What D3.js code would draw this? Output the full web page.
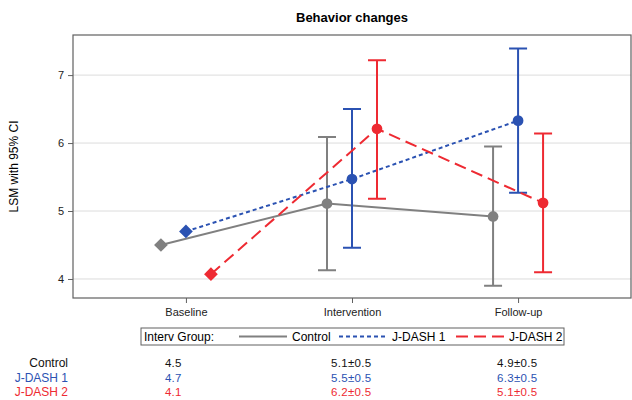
<!DOCTYPE html>
<html>
<head>
<meta charset="utf-8">
<script src="https://cdn.jsdelivr.net/npm/d3@7"></script>
<style>
  body { margin: 0; background: #fff; }
  svg { display: block; font-family: "Liberation Sans", Arial, sans-serif; }
</style>
</head>
<body>
<svg id="chart" width="632" height="400"></svg>
<script>
// categories and groups
const categories = ['Baseline', 'Intervention', 'Follow-up'];
const groups = ['Control', 'J-DASH 1', 'J-DASH 2'];

// least squares means and 95% CI
const controlMean = [4.5, 5.11, 4.92];
const controlLow = [null, 4.13, 3.90];
const controlHigh = [null, 6.09, 5.95];

const dash1Mean = [4.70, 5.47, 6.33];
const dash1Low = [null, 4.46, 5.27];
const dash1High = [null, 6.50, 7.39];

const dash2Mean = [4.07, 6.21, 5.12];
const dash2Low = [null, 5.18, 4.10];
const dash2High = [null, 7.22, 6.14];

// table under the chart
const controlText = ['4.5', '5.1±0.5', '4.9±0.5'];
const dash1Text = ['4.7', '5.5±0.5', '6.3±0.5'];
const dash2Text = ['4.1', '6.2±0.5', '5.1±0.5'];

const yTicks = [4, 5, 6, 7];

const colors = { 'Control': '#808080', 'J-DASH 1': '#2b52b2', 'J-DASH 2': '#ee2a32' };
const dashes = { 'Control': null, 'J-DASH 1': '4,3', 'J-DASH 2': '12,6' };

const series = [
  { name: 'Control', mean: controlMean, low: controlLow, high: controlHigh, text: controlText },
  { name: 'J-DASH 1', mean: dash1Mean, low: dash1Low, high: dash1High, text: dash1Text },
  { name: 'J-DASH 2', mean: dash2Mean, low: dash2Low, high: dash2High, text: dash2Text },
];

const svg = d3.select('#chart');
const plot = { left: 73, right: 631, top: 35, bottom: 298 };

const x = d3.scalePoint()
  .domain(categories)
  .range([plot.left, plot.right])
  .padding(0.68);

const offset = d3.scalePoint()
  .domain(groups)
  .range([-25, 25]);

const y = d3.scaleLinear()
  .domain([3.72, 7.59])
  .range([plot.bottom, plot.top]);

// title
svg.append('text')
  .attr('x', (plot.left + plot.right) / 2)
  .attr('y', 22)
  .attr('text-anchor', 'middle')
  .style('font-size', '13px')
  .style('font-weight', 'bold')
  .text('Behavior changes');

// gridlines
svg.append('g')
  .selectAll('line')
  .data(yTicks)
  .join('line')
  .attr('x1', plot.left)
  .attr('x2', plot.right)
  .attr('y1', d => y(d))
  .attr('y2', d => y(d))
  .style('stroke', '#dcdcdc')
  .style('stroke-width', 1);

// axes
const yAxisG = svg.append('g')
  .attr('transform', `translate(${plot.left},0)`)
  .call(d3.axisLeft(y).tickValues(yTicks).tickSize(5).tickPadding(4).tickFormat(d3.format('d')));
const xAxisG = svg.append('g')
  .attr('transform', `translate(0,${plot.bottom})`)
  .call(d3.axisBottom(x).tickSize(5).tickPadding(5));

[yAxisG, xAxisG].forEach(g => {
  g.select('.domain').remove();
  g.selectAll('line').style('stroke', '#606060');
  g.selectAll('text').style('font-size', '11px').style('fill', '#222')
    .style('font-family', '"Liberation Sans", Arial, sans-serif');
});

// frame
svg.append('rect')
  .attr('x', plot.left)
  .attr('y', plot.top)
  .attr('width', plot.right - plot.left)
  .attr('height', plot.bottom - plot.top)
  .style('fill', 'none')
  .style('stroke', '#606060')
  .style('stroke-width', 1.2);

// y label
svg.append('text')
  .attr('transform', `translate(18,${(plot.top + plot.bottom) / 2}) rotate(-90)`)
  .attr('text-anchor', 'middle')
  .style('font-size', '12px')
  .text('LSM with 95% CI');

const px = (s, i) => x(categories[i]) + offset(s.name);

// lines
const line = d3.line()
  .x(d => d.x)
  .y(d => y(d.v));

series.forEach(s => {
  const pts = s.mean.map((v, i) => ({ x: px(s, i), v: v }));
  const g = svg.append('g');

  g.append('path')
    .datum(pts)
    .attr('d', line)
    .style('fill', 'none')
    .style('stroke', colors[s.name])
    .style('stroke-width', 2)
    .style('stroke-dasharray', dashes[s.name]);

  // error bars
  const bars = s.mean.map((v, i) => ({ x: px(s, i), lo: s.low[i], hi: s.high[i] }))
    .filter(d => d.lo != null);
  g.selectAll('.eb')
    .data(bars)
    .join('path')
    .attr('d', d => `M${d.x},${y(d.lo)}V${y(d.hi)}M${d.x - 9},${y(d.hi)}H${d.x + 9}M${d.x - 9},${y(d.lo)}H${d.x + 9}`)
    .style('fill', 'none')
    .style('stroke', colors[s.name])
    .style('stroke-width', 2);

  // markers: diamond at baseline, circles after
  g.selectAll('.mk')
    .data(pts)
    .join('path')
    .attr('transform', d => `translate(${d.x},${y(d.v)})`)
    .attr('d', (d, i) => i === 0
      ? d3.symbol().type(d3.symbolDiamond2).size(120)()
      : d3.symbol().type(d3.symbolCircle).size(90)())
    .style('fill', colors[s.name]);
});

// legend
const legend = svg.append('g');
legend.append('rect')
  .attr('x', 141)
  .attr('y', 328)
  .attr('width', 423)
  .attr('height', 17)
  .style('fill', 'none')
  .style('stroke', '#606060')
  .style('stroke-width', 1);
legend.append('text')
  .attr('x', 144)
  .attr('y', 341)
  .style('font-size', '12px')
  .text('Interv Group:');

const legendX = [239, 339, 456];
series.forEach((s, i) => {
  legend.append('line')
    .attr('x1', legendX[i])
    .attr('x2', legendX[i] + 48)
    .attr('y1', 336.5)
    .attr('y2', 336.5)
    .style('stroke', colors[s.name])
    .style('stroke-width', 2)
    .style('stroke-dasharray', dashes[s.name]);
  legend.append('text')
    .attr('x', legendX[i] + 53)
    .attr('y', 341)
    .style('font-size', '12px')
    .text(s.name);
});

// table
const rowY = [367, 381.5, 396];
const table = svg.append('g');
series.forEach((s, r) => {
  const c = s.name === 'Control' ? '#111' : colors[s.name];
  table.append('text')
    .attr('x', 68)
    .attr('y', rowY[r])
    .attr('text-anchor', 'end')
    .style('font-size', '12px')
    .style('fill', c)
    .text(s.name);
  table.selectAll(null)
    .data(s.text)
    .join('text')
    .attr('x', (d, i) => x(categories[i]) - 21)
    .attr('y', rowY[r])
    .style('font-size', '11.5px')
    .style('letter-spacing', '0.3px')
    .style('fill', c)
    .text(d => d);
});
</script>
</body>
</html>
